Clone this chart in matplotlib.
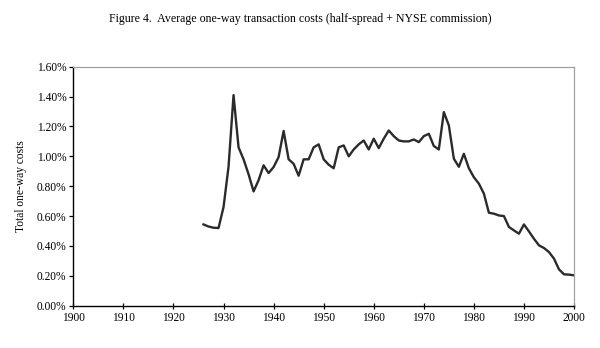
import matplotlib
matplotlib.use("Agg")
import matplotlib.pyplot as plt
from matplotlib.ticker import FuncFormatter

years = list(range(1926, 2001))
costs = [
    0.544, 0.53, 0.522, 0.52, 0.66, 0.93, 1.41, 1.06, 0.98, 0.88,
    0.765, 0.84, 0.94, 0.888, 0.928, 0.995, 1.17, 0.98, 0.95, 0.87,
    0.98, 0.98, 1.06, 1.08, 0.98, 0.944, 0.92, 1.06, 1.073, 1.0,
    1.046, 1.08, 1.106, 1.046, 1.118, 1.055, 1.118, 1.173, 1.135, 1.106,
    1.1, 1.1, 1.113, 1.095, 1.135, 1.151, 1.069, 1.046, 1.296, 1.207,
    0.984, 0.93, 1.017, 0.92, 0.86, 0.817, 0.75, 0.622, 0.616, 0.604,
    0.60, 0.527, 0.504, 0.482, 0.544, 0.497, 0.448, 0.404, 0.386, 0.359,
    0.315, 0.243, 0.21, 0.208, 0.203,
]

plt.rcParams["font.family"] = ["Liberation Serif", "DejaVu Serif"]

fig = plt.figure(figsize=(6.0, 3.48), dpi=100)
ax = fig.add_axes([0.1222, 0.1216, 0.8345, 0.6867])

ax.plot(years, costs, color="#2b2b2b", linewidth=1.7, solid_joinstyle="round")

ax.set_xlim(1900, 2000)
ax.set_ylim(0, 1.6)
ax.set_xticks(range(1900, 2001, 10))
ax.set_yticks([i * 0.2 for i in range(9)])
ax.yaxis.set_major_formatter(FuncFormatter(lambda v, _: f"{v:.2f}%"))

for side in ("left", "bottom"):
    ax.spines[side].set_color("black")
    ax.spines[side].set_linewidth(1.0)
for side in ("top", "right"):
    ax.spines[side].set_color("#a0a0a0")
    ax.spines[side].set_linewidth(0.9)

ax.tick_params(axis="y", direction="out", length=3, width=0.9, labelsize=8.3, pad=2)
ax.tick_params(axis="x", direction="inout", length=5, width=0.9, labelsize=8.3, pad=2)

ax.set_ylabel("Total one-way costs", fontsize=8.3, labelpad=7)
fig.text(0.5, 0.945, "Figure 4.  Average one-way transaction costs (half-spread + NYSE commission)",
         ha="center", va="center", fontsize=8.6)

fig.savefig("out.png", dpi=100)
